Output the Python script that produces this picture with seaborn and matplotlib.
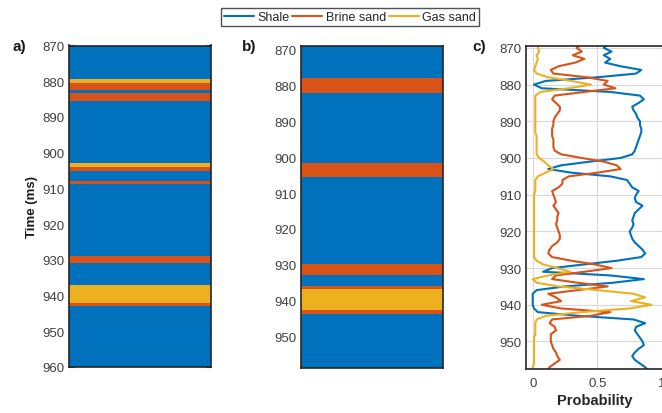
import numpy as np
import pandas as pd
import matplotlib
matplotlib.use("Agg")
import matplotlib.pyplot as plt
import seaborn as sns
from matplotlib.lines import Line2D

# ---------------- data ----------------
facies_names = ["Shale", "Brine sand", "Gas sand"]
facies_colors = ["#0072BD", "#D95319", "#EDB120"]

# panel a: facies log (top, base, facies index)
a_tops = [870.0, 879.4, 880.4, 882.4, 883.4, 885.4, 903.0, 903.9, 905.0, 908.0, 908.9, 929.0, 931.0, 937.1, 942.2, 942.9]
a_bases = [879.4, 880.4, 882.4, 883.4, 885.4, 903.0, 903.9, 905.0, 908.0, 908.9, 929.0, 931.0, 937.1, 942.2, 942.9, 960.0]
a_codes = [0, 2, 1, 0, 1, 0, 2, 1, 0, 1, 0, 1, 0, 2, 1, 0]

# panel b: facies log
b_tops = [868.8, 877.9, 881.9, 901.5, 905.4, 929.7, 932.8, 935.9, 936.8, 942.8, 943.9]
b_bases = [877.9, 881.9, 901.5, 905.4, 929.7, 932.8, 935.9, 936.8, 942.8, 943.9, 958.9]
b_codes = [0, 1, 0, 1, 0, 1, 0, 1, 2, 1, 0]

# panel c: probabilities
time_c = list(range(869, 959))
p_shale = [0.58, 0.55, 0.61, 0.55, 0.60, 0.56, 0.68, 0.84, 0.80, 0.50,
           0.10, 0.01, 0.07, 0.60, 0.83, 0.86, 0.82, 0.77, 0.78, 0.80,
           0.81, 0.83, 0.83, 0.84, 0.84, 0.83, 0.82, 0.81, 0.80, 0.79,
           0.77, 0.68, 0.44, 0.22, 0.12, 0.30, 0.60, 0.73, 0.75, 0.77,
           0.82, 0.80, 0.79, 0.80, 0.85, 0.82, 0.79, 0.78, 0.77, 0.78,
           0.77, 0.75, 0.76, 0.77, 0.79, 0.82, 0.85, 0.87, 0.84, 0.65,
           0.40, 0.15, 0.08, 0.60, 0.86, 0.62, 0.25, 0.03, 0.00, 0.00,
           0.00, 0.00, 0.01, 0.04, 0.35, 0.78, 0.87, 0.80, 0.79, 0.81,
           0.83, 0.85, 0.86, 0.82, 0.79, 0.77, 0.79, 0.83, 0.87, 0.90]
p_brine = [0.38, 0.34, 0.38, 0.31, 0.40, 0.33, 0.20, 0.14, 0.16, 0.42,
           0.58, 0.55, 0.64, 0.40, 0.17, 0.15, 0.18, 0.21, 0.21, 0.19,
           0.17, 0.16, 0.16, 0.15, 0.15, 0.15, 0.16, 0.16, 0.16, 0.17,
           0.22, 0.38, 0.55, 0.65, 0.68, 0.50, 0.28, 0.23, 0.23, 0.20,
           0.15, 0.16, 0.17, 0.18, 0.16, 0.18, 0.20, 0.19, 0.19, 0.18,
           0.19, 0.20, 0.21, 0.21, 0.19, 0.15, 0.13, 0.12, 0.15, 0.30,
           0.48, 0.61, 0.40, 0.18, 0.15, 0.35, 0.58, 0.35, 0.12, 0.18,
           0.22, 0.07, 0.22, 0.60, 0.45, 0.15, 0.13, 0.17, 0.18, 0.14,
           0.14, 0.14, 0.15, 0.16, 0.18, 0.19, 0.21, 0.17, 0.13, 0.11]
p_gas = [0.04, 0.04, 0.05, 0.03, 0.04, 0.03, 0.02, 0.01, 0.03, 0.12,
         0.30, 0.45, 0.28, 0.06, 0.02, 0.02, 0.02, 0.02, 0.02, 0.02,
         0.02, 0.02, 0.02, 0.02, 0.02, 0.03, 0.03, 0.03, 0.03, 0.03,
         0.03, 0.05, 0.09, 0.12, 0.16, 0.10, 0.04, 0.02, 0.02, 0.02,
         0.02, 0.01, 0.01, 0.01, 0.01, 0.01, 0.01, 0.01, 0.01, 0.01,
         0.01, 0.01, 0.01, 0.01, 0.01, 0.01, 0.01, 0.01, 0.01, 0.03,
         0.08, 0.19, 0.29, 0.12, 0.00, 0.03, 0.20, 0.50, 0.78, 0.87,
         0.76, 0.92, 0.75, 0.38, 0.10, 0.03, 0.02, 0.02, 0.02, 0.02,
         0.01, 0.01, 0.01, 0.01, 0.01, 0.01, 0.01, 0.01, 0.00, 0.00]

yticks_a = [870, 880, 890, 900, 910, 920, 930, 940, 950, 960]
yticks_bc = [870, 880, 890, 900, 910, 920, 930, 940, 950]
xticks_c = [0, 0.5, 1]
xticklabels_c = ["0", "0.5", "1"]

# ---------------- style ----------------
sns.set_style("white")
plt.rcParams["font.family"] = ["Liberation Sans", "DejaVu Sans"]
plt.rcParams["axes.edgecolor"] = "#262626"
plt.rcParams["xtick.color"] = "#262626"
plt.rcParams["ytick.color"] = "#262626"
plt.rcParams["xtick.labelcolor"] = "#404040"
plt.rcParams["ytick.labelcolor"] = "#404040"

W, H = 662, 414
fig = plt.figure(figsize=(W / 100, H / 100), dpi=100)


def px_axes(left, top, right, bottom):
    return fig.add_axes([left / W, 1 - bottom / H, (right - left) / W, (bottom - top) / H])


ax_a = px_axes(69, 46.5, 210.5, 368)
ax_b = px_axes(301, 46.7, 442.7, 369)
ax_c = px_axes(526, 46.7, 664, 370)

TICK_FS = 9.5


def draw_log(ax, tops, bases, codes, ylim, yticks):
    heights = [b - t for t, b in zip(tops, bases)]
    cols = [facies_colors[c] for c in codes]
    ax.barh(y=tops, width=1, height=heights, left=0, align="edge",
            color=cols, edgecolor="none", linewidth=0)
    ax.set_xlim(0, 1)
    ax.set_ylim(ylim[1], ylim[0])
    ax.set_yticks(yticks)
    ax.set_xticks([])
    ax.tick_params(axis="y", direction="in", length=3.5, width=0.8,
                   left=True, right=True, labelsize=TICK_FS, pad=3)
    for s in ax.spines.values():
        s.set_visible(True)
        s.set_linewidth(1.2)
        s.set_color("#262626")
        s.set_zorder(5)


draw_log(ax_a, a_tops, a_bases, a_codes, (870, 960), yticks_a)
draw_log(ax_b, b_tops, b_bases, b_codes, (868.8, 958.9), yticks_bc)

# panel c
df = pd.DataFrame({
    "time": time_c * 3,
    "prob": p_shale + p_brine + p_gas,
    "facies": ["Shale"] * len(time_c) + ["Brine sand"] * len(time_c) + ["Gas sand"] * len(time_c),
})
pal = dict(zip(facies_names, facies_colors))
sns.lineplot(data=df, x="prob", y="time", hue="facies", hue_order=facies_names,
             palette=pal, orient="y", sort=False, estimator=None,
             linewidth=1.5, legend=False, ax=ax_c)
ax_c.set_xlim(-0.052, 1.016)
ax_c.set_ylim(957.5, 869.4)
ax_c.set_yticks(yticks_bc)
ax_c.set_xticks(xticks_c)
ax_c.set_xticklabels(xticklabels_c)
ax_c.grid(True, color="#d9d9d9", linewidth=0.8)
ax_c.set_axisbelow(True)
ax_c.tick_params(axis="both", direction="in", length=3.5, width=0.8, labelsize=TICK_FS, pad=3)
ax_c.tick_params(axis="x", pad=6)
ax_c.set_xlabel("Probability", fontsize=10.5, fontweight="bold", labelpad=3)
ax_c.set_ylabel("")
for s in ax_c.spines.values():
    s.set_visible(True)
    s.set_linewidth(1.2)
    s.set_color("#262626")

fig.text(32 / W, 1 - 207 / H, "Time (ms)", rotation=90, fontsize=9.5,
         fontweight="bold", ha="center", va="center", color="#1a1a1a")

# panel labels
for x, lab in [(12, "a)"), (242, "b)"), (472, "c)")]:
    fig.text(x / W, 1 - 47 / H, lab, fontsize=11, fontweight="bold",
             ha="left", va="center", color="#1a1a1a")

# legend
handles = [Line2D([0], [0], color=c, lw=1.5) for c in facies_colors]
leg = fig.legend(handles, facies_names, loc="center", ncol=3,
                 bbox_to_anchor=(350 / W, 1 - 18 / H), frameon=True,
                 fancybox=False, edgecolor="#262626", fontsize=9,
                 handlelength=2.4, handletextpad=0.25, columnspacing=0.25,
                 borderpad=0.25, borderaxespad=0)
leg.get_frame().set_linewidth(1.0)

fig.savefig("out.png", dpi=100)
